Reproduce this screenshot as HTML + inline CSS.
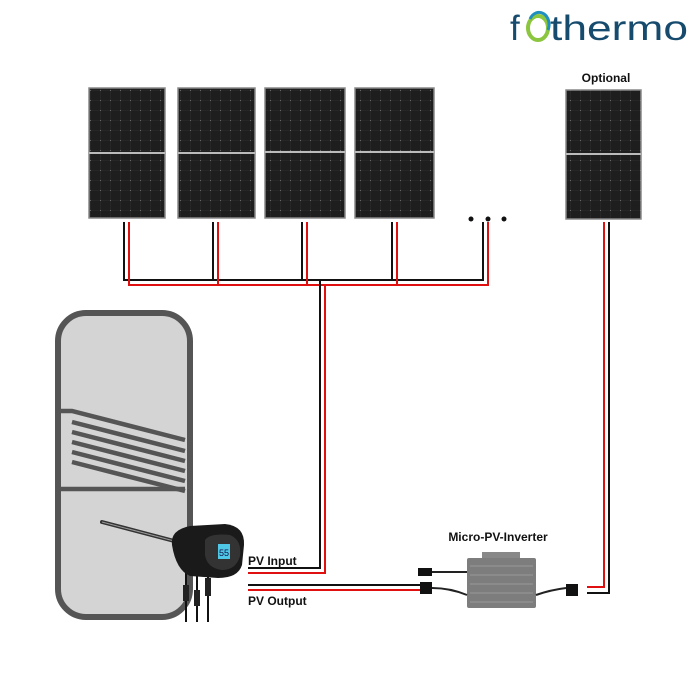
<!DOCTYPE html>
<html><head><style>
html,body{margin:0;padding:0;background:#fff;}
svg{display:block}
text{font-family:"Liberation Sans",sans-serif}
</style></head><body>
<svg width="700" height="700" viewBox="0 0 700 700" xmlns="http://www.w3.org/2000/svg">
<defs>
<pattern id="cells" width="10" height="10" patternUnits="userSpaceOnUse">
<rect width="10" height="10" fill="#1e1e1e"/>
<path d="M0 0H10M0 0V10" stroke="#3c3c3c" stroke-width="0.6"/>
<circle cx="0" cy="0" r="0.9" fill="#999"/>
</pattern>
</defs>
<!-- logo -->
<text x="510" y="40" font-size="35" fill="#164b6e">f</text>
<text x="550" y="40" font-size="35" fill="#164b6e" textLength="138" lengthAdjust="spacingAndGlyphs">thermo</text>
<ellipse cx="538" cy="28" rx="10" ry="12" fill="none" stroke="#8cc63f" stroke-width="4"/>
<path d="M530 19 A10 12 0 0 1 548 30" fill="none" stroke="#1f8fc0" stroke-width="3"/>
<!-- Optional -->
<text x="606" y="82" font-size="12" font-weight="bold" text-anchor="middle" fill="#111">Optional</text>
<!-- panels -->
<g stroke="#888" stroke-width="1.5">
<rect x="89" y="88" width="76" height="130" fill="url(#cells)"/>
<rect x="178" y="88" width="77" height="130" fill="url(#cells)"/>
<rect x="265" y="88" width="80" height="130" fill="url(#cells)"/>
<rect x="355" y="88" width="79" height="130" fill="url(#cells)"/>
<rect x="566" y="90" width="75" height="129" fill="url(#cells)"/>
</g>
<g stroke="#bbb" stroke-width="2">
<path d="M89 153H165M178 153H255M265 152H345M355 152H434M566 154H641"/>
</g>
<g fill="#111"><circle cx="471" cy="219" r="2.5"/><circle cx="488" cy="219" r="2.5"/><circle cx="504" cy="219" r="2.5"/></g>
<!-- wiring from panels -->
<g fill="none" stroke-width="2">
<path stroke="#111" d="M124 222V280H483V222M213 222V280M302 222V280M392 222V280"/>
<path stroke="#e01010" d="M129 222V285H488V222M218 222V285M307 222V285M397 222V285"/>
<path stroke="#111" d="M320 280V568H248"/>
<path stroke="#e01010" d="M325 285V573H248"/>
<path stroke="#111" d="M248 585H420"/>
<path stroke="#e01010" d="M248 590H424"/>
<path stroke="#e01010" d="M604 222V587H587"/>
<path stroke="#111" d="M609 222V593H587"/>
</g>
<!-- tank -->
<rect x="58" y="313" width="132" height="304" rx="28" fill="#d4d4d4" stroke="#555" stroke-width="6"/>
<g fill="none" stroke="#555" stroke-width="4.5">
<path d="M58 411H72L185 440"/>
<path d="M72 422L185 451M72 432L185 461M72 442L185 471M72 452L185 481M72 462L185 491"/>
<path d="M58 489H185"/>
</g>
<!-- heater rod & controller -->
<path d="M102 522L178 542" stroke="#333" stroke-width="4" stroke-linecap="round"/>
<path d="M102 522L178 542" stroke="#999" stroke-width="1"/>
<g stroke="#111" stroke-width="2"><path d="M186 570V622M197 575V622M208 575V622"/></g>
<rect x="183" y="585" width="6" height="16" fill="#222"/><rect x="194" y="590" width="6" height="16" fill="#222"/><rect x="205" y="578" width="6" height="18" fill="#222"/>
<path d="M172 545Q170 530 190 526L225 524Q245 526 244 545L242 565Q238 578 218 578L190 576Q176 570 172 545Z" fill="#1a1a1a"/>
<path d="M205 540Q210 533 230 535Q242 540 240 556Q236 570 222 570Q207 568 205 555Z" fill="#333"/>
<rect x="218" y="544" width="12" height="15" fill="#4fc8e8"/>
<text x="219" y="556" font-size="9" fill="#114">55</text>
<!-- labels -->
<text x="248" y="565" font-size="12" font-weight="bold" fill="#111">PV Input</text>
<text x="248" y="605" font-size="12" font-weight="bold" fill="#111">PV Output</text>
<text x="498" y="541" font-size="12" font-weight="bold" text-anchor="middle" fill="#111">Micro-PV-Inverter</text>
<!-- inverter -->
<path d="M482 552H520V558H482Z" fill="#888"/>
<rect x="467" y="558" width="69" height="50" rx="2" fill="#7d7d7d"/>
<g stroke="#999" stroke-width="1"><path d="M470 566H533M470 575H533M470 584H533M470 593H533M470 602H533"/></g>
<g stroke="#222" stroke-width="2" fill="none">
<path d="M420 572H467"/>
<path d="M432 588Q450 588 467 595"/>
<path d="M536 595Q550 590 566 588"/>
</g>
<rect x="418" y="568" width="14" height="8" fill="#111"/>
<rect x="420" y="582" width="12" height="12" fill="#111"/>
<rect x="566" y="584" width="12" height="12" fill="#111"/>
</svg>
</body></html>
